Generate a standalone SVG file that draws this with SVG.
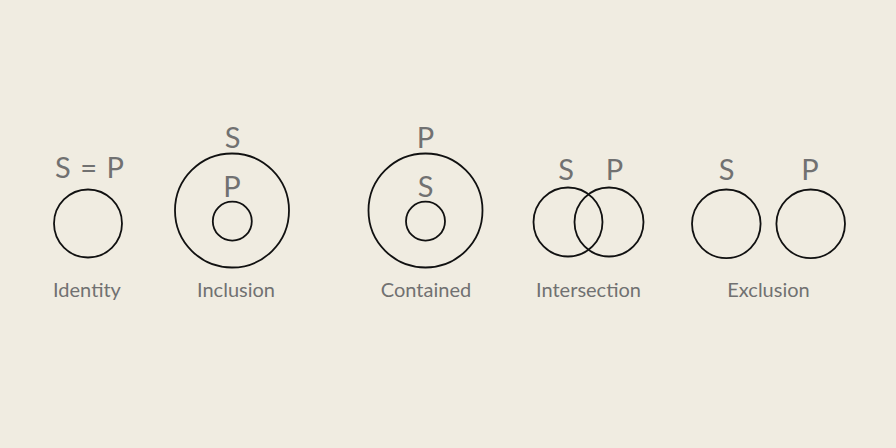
<svg xmlns="http://www.w3.org/2000/svg" width="896" height="448" viewBox="0 0 896 448">
<style>
.c{fill:none;stroke:#111;stroke-width:1.8}
.l{font-family:Lato,"Liberation Sans",sans-serif;font-weight:400;fill:#717171;text-anchor:middle}
.big{font-size:29px}
.cap{font-size:20px}
</style>
<rect width="896" height="448" fill="#f0ece1"/>
<g id="identity">
<circle class="c" cx="88" cy="223.5" r="34"/>
<text class="l big" x="89.5" y="178" xml:space="preserve" word-spacing="2">S = P</text>
<text class="l cap" x="87" y="297">Identity</text>
</g>
<g id="inclusion">
<circle class="c" cx="232" cy="210.5" r="57"/>
<circle class="c" cx="232.3" cy="221.2" r="19.5"/>
<text class="l big" x="232.5" y="148">S</text>
<text class="l big" x="232" y="196.5">P</text>
<text class="l cap" x="236" y="297">Inclusion</text>
</g>
<g id="contained">
<circle class="c" cx="425.5" cy="210.5" r="57"/>
<circle class="c" cx="425.5" cy="221.2" r="19.5"/>
<text class="l big" x="425.5" y="148">P</text>
<text class="l big" x="425.5" y="196.5">S</text>
<text class="l cap" x="426" y="297">Contained</text>
</g>
<g id="intersection">
<circle class="c" cx="568" cy="222" r="34.5"/>
<circle class="c" cx="609" cy="222" r="34.5"/>
<text class="l big" x="566" y="180">S</text>
<text class="l big" x="614.5" y="180">P</text>
<text class="l cap" x="588.5" y="297">Intersection</text>
</g>
<g id="exclusion">
<circle class="c" cx="726.3" cy="223.8" r="34.3"/>
<circle class="c" cx="810.7" cy="223.8" r="34.3"/>
<text class="l big" x="726.5" y="180">S</text>
<text class="l big" x="810" y="180">P</text>
<text class="l cap" x="768.5" y="297">Exclusion</text>
</g>
<g id="connectors"/>
</svg>
